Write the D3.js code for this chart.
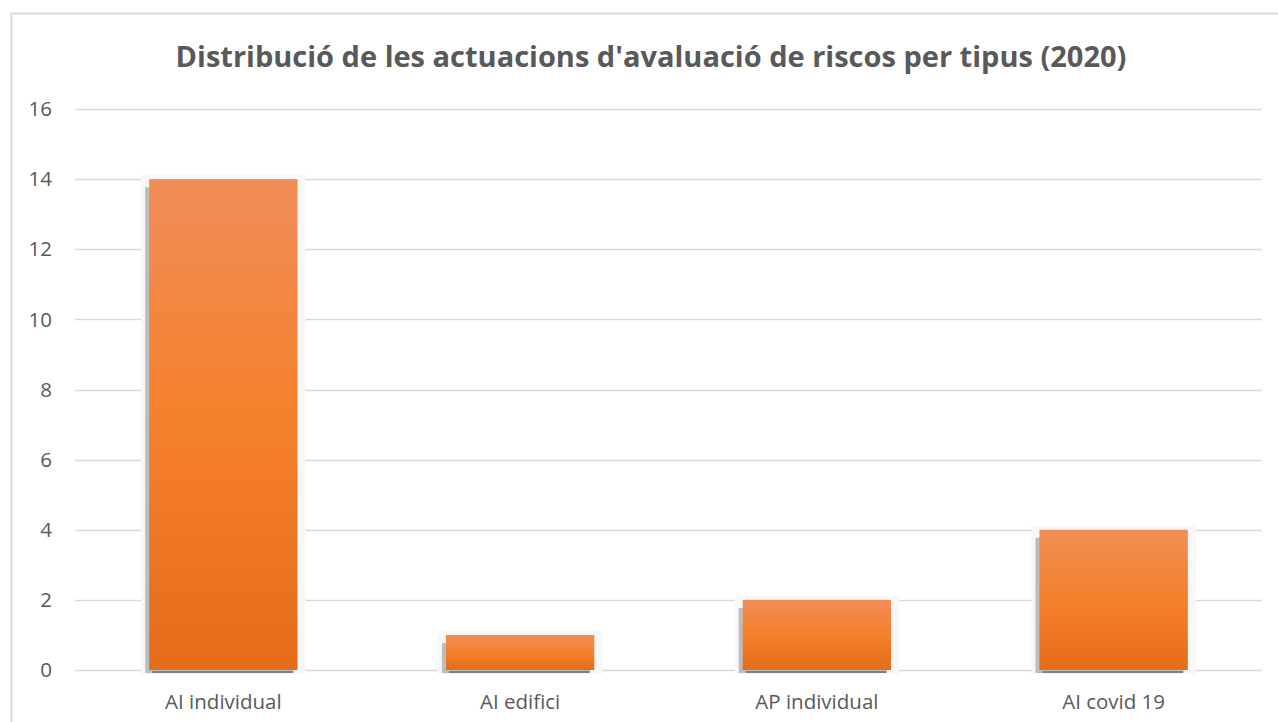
<!DOCTYPE html>
<html>
<head>
<meta charset="utf-8">
<script src="https://cdn.jsdelivr.net/npm/d3@7"></script>
<style>
    body { margin: 0; background: #fff; }
    text { font-family: "Open Sans", sans-serif; }
</style>
</head>
<body>
<div id="chart"></div>
<script>
// data
let categories = ["AI individual", "AI edifici", "AP individual", "AI covid 19"];
let values = [14, 1, 2, 4];
let yTicks = [0, 2, 4, 6, 8, 10, 12, 14, 16];
let title = "Distribució de les actuacions d'avaluació de riscos per tipus (2020)";

let width = 1278, height = 722;
let plotLeft = 75, plotRight = 1262, plotTop = 109, plotBottom = 670;

let svg = d3.select("#chart").append("svg")
    .attr("width", width)
    .attr("height", height);

// gradient for bars
let defs = svg.append("defs");
let grad = defs.append("linearGradient")
    .attr("id", "barGrad")
    .attr("x1", 0).attr("y1", 0).attr("x2", 0).attr("y2", 1);
grad.append("stop").attr("offset", "0%").attr("stop-color", "#f08d58");
grad.append("stop").attr("offset", "50%").attr("stop-color", "#f5802b");
grad.append("stop").attr("offset", "100%").attr("stop-color", "#e46c1a");

// chart border
svg.append("rect")
    .attr("x", 11.5).attr("y", 13.5)
    .attr("width", 1290).attr("height", 730)
    .style("fill", "none")
    .style("stroke", "#d9d9d9")
    .style("stroke-width", 2);

// title
svg.append("text")
    .attr("x", 651)
    .attr("y", 67)
    .attr("text-anchor", "middle")
    .attr("font-size", 29)
    .attr("font-weight", "bold")
    .style("fill", "#595959")
    .text(title);

let x = d3.scaleBand()
    .domain(categories)
    .range([plotLeft, plotRight])
    .paddingInner(0.5)
    .paddingOuter(0.25);

let y = d3.scaleLinear()
    .domain([0, 16])
    .range([plotBottom, plotTop]);

// gridlines
svg.append("g")
    .selectAll("line")
    .data(yTicks)
    .join("line")
    .attr("x1", plotLeft)
    .attr("x2", plotRight)
    .attr("y1", d => Math.round(y(d)) + 0.5)
    .attr("y2", d => Math.round(y(d)) + 0.5)
    .style("stroke", "#d9d9d9")
    .style("stroke-width", 1.5);

// y labels
svg.append("g")
    .selectAll("text")
    .data(yTicks)
    .join("text")
    .attr("x", 52)
    .attr("y", d => y(d))
    .attr("dy", ".35em")
    .attr("text-anchor", "end")
    .attr("font-size", 20.5)
    .style("fill", "#595959")
    .text(d => d);

// x labels
svg.append("g")
    .selectAll("text")
    .data(categories)
    .join("text")
    .attr("x", d => x(d) + x.bandwidth() / 2)
    .attr("y", 709)
    .attr("text-anchor", "middle")
    .attr("font-size", 20.5)
    .style("fill", "#595959")
    .text(d => d);

let bars = svg.append("g")
    .selectAll("g")
    .data(categories.map((c, i) => ({ cat: c, val: values[i] })))
    .join("g");

// soft halo
bars.append("rect")
    .attr("x", d => x(d.cat) - 8)
    .attr("y", d => y(d.val) - 4)
    .attr("width", x.bandwidth() + 16)
    .attr("height", d => plotBottom - y(d.val) + 8)
    .style("fill", "#f7f7f7");

// shadow
bars.append("rect")
    .attr("x", d => x(d.cat) - 4)
    .attr("y", d => y(d.val) + 8)
    .attr("width", x.bandwidth())
    .attr("height", d => plotBottom - y(d.val) - 5)
    .style("fill", "#bdbdbd");

// bottom dark line
bars.append("rect")
    .attr("x", d => x(d.cat) + 3)
    .attr("y", plotBottom + 1)
    .attr("width", x.bandwidth() - 8)
    .attr("height", 2)
    .style("fill", "#7f7f7f");

// bars
bars.append("rect")
    .attr("x", d => x(d.cat))
    .attr("y", d => y(d.val))
    .attr("width", x.bandwidth())
    .attr("height", d => plotBottom - y(d.val))
    .style("fill", "url(#barGrad)");
</script>
</body>
</html>
